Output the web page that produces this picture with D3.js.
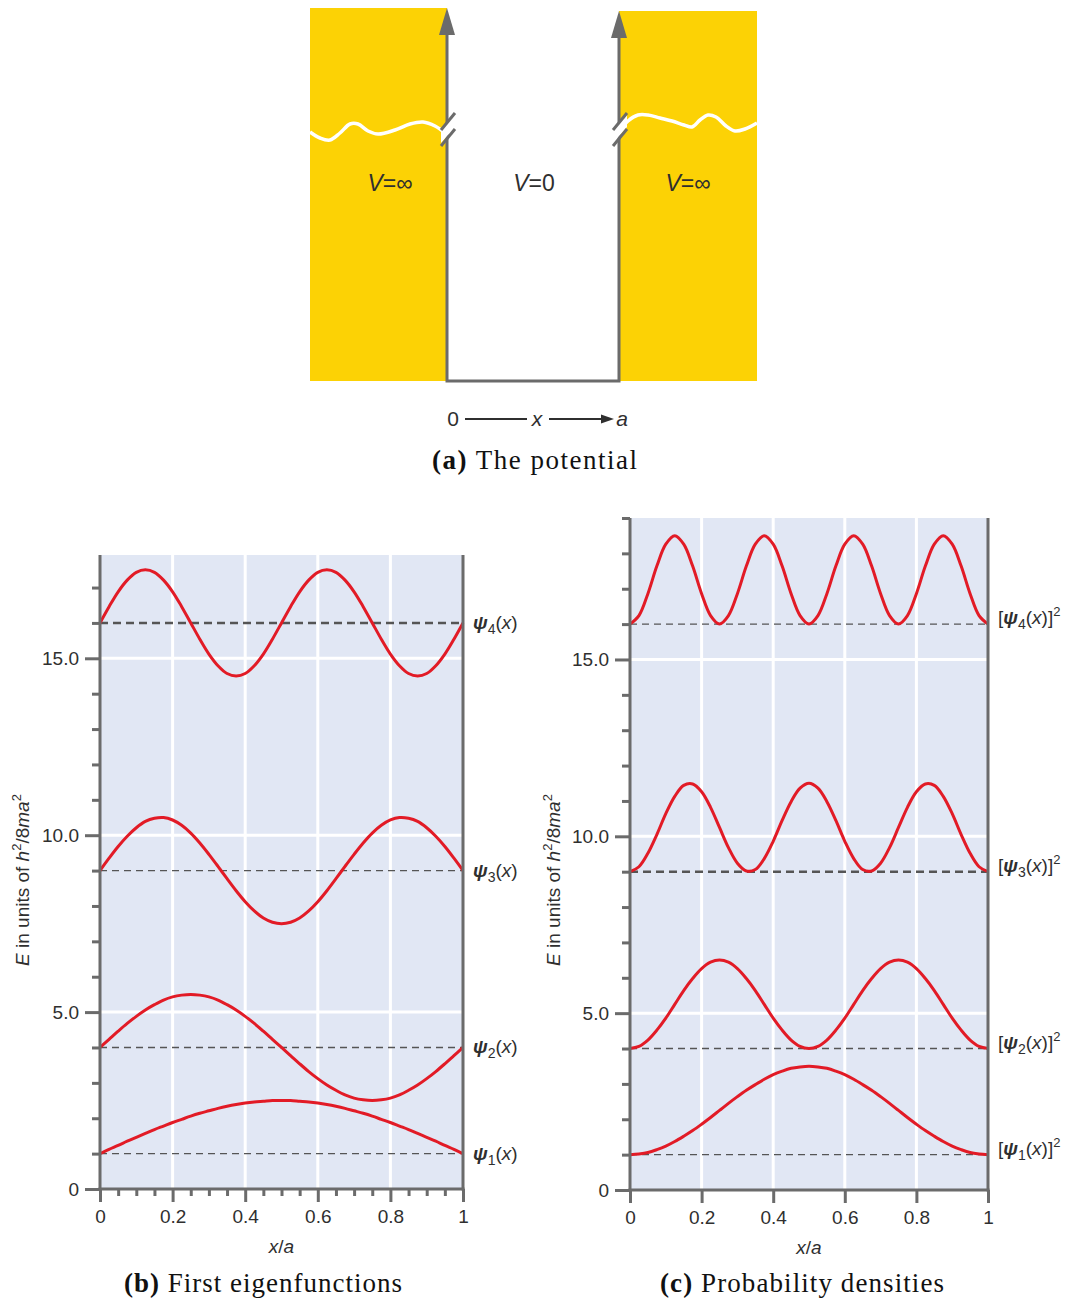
<!DOCTYPE html>
<html>
<head>
<meta charset="utf-8">
<script src="https://cdn.jsdelivr.net/npm/d3@7"></script>
<style>
  body { margin: 0; background: #fff; }
  svg { display: block; }
</style>
</head>
<body>
<svg id="fig" width="1067" height="1300"></svg>
<script>
// Sample positions along the well, x/a
const xGrid = [0, 0.025, 0.05, 0.075, 0.1, 0.125, 0.15, 0.175, 0.2, 0.225, 0.25,
  0.275, 0.3, 0.325, 0.35, 0.375, 0.4, 0.425, 0.45, 0.475, 0.5,
  0.525, 0.55, 0.575, 0.6, 0.625, 0.65, 0.675, 0.7, 0.725, 0.75,
  0.775, 0.8, 0.825, 0.85, 0.875, 0.9, 0.925, 0.95, 0.975, 1];

// Energy levels E_n (units of h^2/8ma^2)
const levels = [1, 4, 9, 16];
const stateNumbers = [1, 2, 3, 4];

// Eigenfunctions drawn on top of their energy levels
const psi1 = [1.00, 1.12, 1.23, 1.35, 1.46, 1.57, 1.68, 1.78, 1.88, 1.97, 2.06, 2.14, 2.21, 2.28, 2.34, 2.39, 2.43, 2.46, 2.48, 2.50, 2.50,
  2.50, 2.48, 2.46, 2.43, 2.39, 2.34, 2.28, 2.21, 2.14, 2.06, 1.97, 1.88, 1.78, 1.68, 1.57, 1.46, 1.35, 1.23, 1.12, 1.00];
const psi2 = [4.00, 4.23, 4.46, 4.68, 4.88, 5.06, 5.21, 5.34, 5.43, 5.48, 5.50, 5.48, 5.43, 5.34, 5.21, 5.06, 4.88, 4.68, 4.46, 4.23, 4.00,
  3.77, 3.54, 3.32, 3.12, 2.94, 2.79, 2.66, 2.57, 2.52, 2.50, 2.52, 2.57, 2.66, 2.79, 2.94, 3.12, 3.32, 3.54, 3.77, 4.00];
const psi3 = [9.00, 9.35, 9.68, 9.97, 10.21, 10.39, 10.48, 10.50, 10.43, 10.28, 10.06, 9.78, 9.46, 9.12, 8.77, 8.43, 8.12, 7.86, 7.66, 7.54, 7.50,
  7.54, 7.66, 7.86, 8.12, 8.43, 8.77, 9.12, 9.46, 9.78, 10.06, 10.28, 10.43, 10.50, 10.48, 10.39, 10.21, 9.97, 9.68, 9.35, 9.00];
const psi4 = [16.00, 16.46, 16.88, 17.21, 17.43, 17.50, 17.43, 17.21, 16.88, 16.46, 16.00, 15.54, 15.12, 14.79, 14.57, 14.50, 14.57, 14.79, 15.12, 15.54, 16.00,
  16.46, 16.88, 17.21, 17.43, 17.50, 17.43, 17.21, 16.88, 16.46, 16.00, 15.54, 15.12, 14.79, 14.57, 14.50, 14.57, 14.79, 15.12, 15.54, 16.00];

// Probability densities drawn on top of their energy levels
const dens1 = [1.00, 1.02, 1.06, 1.14, 1.24, 1.37, 1.52, 1.68, 1.86, 2.05, 2.25, 2.45, 2.64, 2.82, 2.98, 3.13, 3.26, 3.36, 3.44, 3.48, 3.50,
  3.48, 3.44, 3.36, 3.26, 3.13, 2.98, 2.82, 2.64, 2.45, 2.25, 2.05, 1.86, 1.68, 1.52, 1.37, 1.24, 1.14, 1.06, 1.02, 1.00];
const dens2 = [4.00, 4.06, 4.24, 4.52, 4.86, 5.25, 5.64, 5.98, 6.26, 6.44, 6.50, 6.44, 6.26, 5.98, 5.64, 5.25, 4.86, 4.52, 4.24, 4.06, 4.00,
  4.06, 4.24, 4.52, 4.86, 5.25, 5.64, 5.98, 6.26, 6.44, 6.50, 6.44, 6.26, 5.98, 5.64, 5.25, 4.86, 4.52, 4.24, 4.06, 4.00];
const dens3 = [9.00, 9.14, 9.52, 10.05, 10.64, 11.13, 11.44, 11.48, 11.26, 10.82, 10.25, 9.68, 9.24, 9.02, 9.06, 9.37, 9.86, 10.45, 10.98, 11.36, 11.50,
  11.36, 10.98, 10.45, 9.86, 9.37, 9.06, 9.02, 9.24, 9.68, 10.25, 10.82, 11.26, 11.48, 11.44, 11.13, 10.64, 10.05, 9.52, 9.14, 9.00];
const dens4 = [16.00, 16.24, 16.86, 17.64, 18.26, 18.50, 18.26, 17.64, 16.86, 16.24,
  16.00, 16.24, 16.86, 17.64, 18.26, 18.50, 18.26, 17.64, 16.86, 16.24,
  16.00, 16.24, 16.86, 17.64, 18.26, 18.50, 18.26, 17.64, 16.86, 16.24,
  16.00, 16.24, 16.86, 17.64, 18.26, 18.50, 18.26, 17.64, 16.86, 16.24, 16.00];

// Axis ticks
const xMajorTicks = [0, 0.2, 0.4, 0.6, 0.8, 1];
const xMinorTicks = [0.05, 0.1, 0.15, 0.25, 0.3, 0.35, 0.45, 0.5, 0.55, 0.65, 0.7, 0.75, 0.85, 0.9, 0.95];
const yMajorTicks = [0, 5, 10, 15];
const xTickLabels = ["0", "0.2", "0.4", "0.6", "0.8", "1"];
const yTickLabels = ["0", "5.0", "10.0", "15.0"];

const svg = d3.select("#fig");
const SANS = "'Liberation Sans', Arial, sans-serif";
const SERIF = "'Liberation Serif', 'Times New Roman', serif";
const AXIS_GREY = "#6b6b6b";
const TEXT = "#2f2f2f";
const RED = "#e21b26";
const PANEL_BG = "#e1e7f4";

// ---------- (a) the potential well ----------
(function drawWell() {
  const g = svg.append("g");
  const yellow = "#fcd205";
  const wallL = 447, wallR = 619, floor = 381;

  g.append("rect").attr("x", 310).attr("y", 8).attr("width", wallL - 310).attr("height", floor - 8).attr("fill", yellow);
  g.append("rect").attr("x", wallR).attr("y", 11).attr("width", 757 - wallR).attr("height", floor - 11).attr("fill", yellow);

  // white "cut" lines across the infinite walls
  const wave = d3.line().curve(d3.curveCatmullRom.alpha(0.5));
  const waveL = [[310, 132], [320, 138], [330, 140], [340, 133], [350, 124], [358, 124], [368, 131], [378, 134],
    [395, 130], [410, 124], [423, 122], [435, 126], [445, 133]];
  const waveR = [[620, 131], [628, 121], [638, 115], [648, 115], [660, 118], [672, 121], [684, 125], [692, 127],
    [700, 120], [708, 115], [716, 117], [726, 126], [735, 131], [745, 129], [757, 123]];
  g.append("path").attr("d", wave(waveL)).attr("fill", "none").attr("stroke", "#fff").attr("stroke-width", 3.5);
  g.append("path").attr("d", wave(waveR)).attr("fill", "none").attr("stroke", "#fff").attr("stroke-width", 3.5);

  // walls and floor
  g.append("path")
    .attr("d", `M${wallL},30 V${floor} H${wallR} V32`)
    .attr("fill", "none").attr("stroke", AXIS_GREY).attr("stroke-width", 3).attr("stroke-linejoin", "miter");
  g.append("path").attr("d", `M${wallL},8 L${wallL - 8},35 L${wallL + 8},35 Z`).attr("fill", AXIS_GREY);
  g.append("path").attr("d", `M${wallR},11 L${wallR - 8},38 L${wallR + 8},38 Z`).attr("fill", AXIS_GREY);

  // axis-break marks on both walls
  [wallL, wallR].forEach(cx => {
    g.append("path")
      .attr("d", `M${cx - 6},131 L${cx + 8},115 L${cx + 8},127 L${cx - 6},143 Z`)
      .attr("fill", "#fff");
    g.append("line").attr("x1", cx - 6).attr("y1", 130).attr("x2", cx + 8).attr("y2", 113)
      .attr("stroke", AXIS_GREY).attr("stroke-width", 3);
    g.append("line").attr("x1", cx - 6).attr("y1", 146).attr("x2", cx + 8).attr("y2", 129)
      .attr("stroke", AXIS_GREY).attr("stroke-width", 3);
  });

  const vText = (x, rhs) => {
    const t = g.append("text").attr("x", x).attr("y", 191).attr("text-anchor", "middle")
      .attr("font-family", SANS).attr("font-size", 23).attr("fill", TEXT);
    t.append("tspan").attr("font-style", "italic").text("V");
    t.append("tspan").text("=" + rhs);
  };
  vText(390, "∞");
  vText(534, "0");
  vText(688, "∞");

  // 0 —— x ——> a
  const by = 419;
  const bottomText = (x, s, italic) => g.append("text").attr("x", x).attr("y", by + 7).attr("text-anchor", "middle")
    .attr("font-family", SANS).attr("font-style", italic ? "italic" : "normal")
    .attr("font-size", 21).attr("fill", TEXT).text(s);
  bottomText(453, "0", false);
  bottomText(537, "x", true);
  bottomText(622, "a", true);
  g.append("line").attr("x1", 465).attr("x2", 527).attr("y1", by).attr("y2", by).attr("stroke", TEXT).attr("stroke-width", 1.8);
  g.append("line").attr("x1", 549).attr("x2", 604).attr("y1", by).attr("y2", by).attr("stroke", TEXT).attr("stroke-width", 1.8);
  g.append("path").attr("d", `M601,${by - 4.5} L614,${by} L601,${by + 4.5} Z`).attr("fill", TEXT);
})();

// ---------- captions ----------
function caption(x0, x1, y, tag, rest) {
  const t = svg.append("text").attr("x", x0).attr("y", y)
    .attr("font-family", SERIF).attr("font-size", 27).attr("fill", "#111")
    .attr("textLength", x1 - x0).attr("lengthAdjust", "spacing");
  t.append("tspan").attr("font-weight", "bold").text(tag);
  t.append("tspan").text(" " + rest);
}
caption(432, 637, 469, "(a)", "The potential");
caption(124, 402, 1292, "(b)", "First eigenfunctions");
caption(660, 944, 1292, "(c)", "Probability densities");

// ---------- (b) and (c) level diagrams ----------
function levelPanel(opts) {
  const { x0, x1, yTop, yBottom, yMax, curves, heavyLevel, squared, labelShift, minorX, titleX } = opts;
  const g = svg.append("g");
  const x = d3.scaleLinear().domain([0, 1]).range([x0, x1]);
  const y = d3.scaleLinear().domain([0, yMax]).range([yBottom, yTop]);

  // panel background
  g.append("rect").attr("x", x0).attr("y", yTop).attr("width", x1 - x0).attr("height", yBottom - yTop).attr("fill", PANEL_BG);

  // white grid
  g.selectAll(".vgrid").data(xMajorTicks.slice(1, -1)).join("line")
    .attr("x1", d => x(d)).attr("x2", d => x(d)).attr("y1", yTop).attr("y2", yBottom)
    .attr("stroke", "#fff").attr("stroke-width", 3);
  g.selectAll(".hgrid").data(yMajorTicks.slice(1)).join("line")
    .attr("x1", x0).attr("x2", x1).attr("y1", d => y(d)).attr("y2", d => y(d))
    .attr("stroke", "#fff").attr("stroke-width", 3);

  // energy levels
  g.selectAll(".level").data(levels).join("line")
    .attr("x1", x(0)).attr("x2", x(1)).attr("y1", d => y(d)).attr("y2", d => y(d))
    .attr("stroke", "#555").attr("stroke-width", d => d === heavyLevel ? 2.6 : 1.4)
    .attr("stroke-dasharray", d => d === heavyLevel ? "8,5" : "7,5");

  // curves
  const line = d3.line().x((d, i) => x(xGrid[i])).y(d => y(d)).curve(d3.curveCatmullRom.alpha(0.5));
  g.selectAll(".curve").data(curves).join("path")
    .attr("d", d => line(d)).attr("fill", "none")
    .attr("stroke", RED).attr("stroke-width", 3).attr("stroke-linejoin", "round");

  // right frame
  g.append("line").attr("x1", x1).attr("x2", x1).attr("y1", yTop).attr("y2", yBottom + 1.5)
    .attr("stroke", AXIS_GREY).attr("stroke-width", 3);

  const styleAxis = sel => {
    sel.select(".domain").remove();
    sel.selectAll(".tick line").attr("stroke", AXIS_GREY).attr("stroke-width", 3);
    sel.selectAll(".tick text").attr("font-family", SANS).attr("font-size", 19).attr("fill", TEXT);
  };

  // y axis
  g.append("g").attr("transform", `translate(${x0},0)`)
    .call(d3.axisLeft(y).tickValues(yMajorTicks).tickFormat((d, i) => yTickLabels[i]).tickSize(15).tickPadding(6))
    .call(styleAxis);
  const yMinor = d3.range(1, Math.floor(yMax) + 1).filter(v => v % 5 !== 0);
  g.append("g").attr("transform", `translate(${x0},0)`)
    .call(d3.axisLeft(y).tickValues(yMinor).tickFormat("").tickSize(8))
    .call(styleAxis);

  // x axis
  g.append("g").attr("transform", `translate(0,${yBottom})`)
    .call(d3.axisBottom(x).tickValues(xMajorTicks).tickFormat((d, i) => xTickLabels[i]).tickSize(13).tickPadding(8))
    .call(styleAxis);
  if (minorX) {
    g.append("g").attr("transform", `translate(0,${yBottom})`)
      .call(d3.axisBottom(x).tickValues(xMinorTicks).tickFormat("").tickSize(7))
      .call(styleAxis);
  }

  // axis lines
  g.append("line").attr("x1", x0).attr("x2", x0).attr("y1", yTop).attr("y2", yBottom + 1.5)
    .attr("stroke", AXIS_GREY).attr("stroke-width", 3);
  g.append("line").attr("x1", x0 - 1.5).attr("x2", x1 + 1.5).attr("y1", yBottom).attr("y2", yBottom)
    .attr("stroke", AXIS_GREY).attr("stroke-width", 3);

  // axis titles
  const xt = g.append("text").attr("x", (x0 + x1) / 2).attr("y", yBottom + 64).attr("text-anchor", "middle")
    .attr("font-family", SANS).attr("font-size", 19).attr("fill", TEXT);
  xt.append("tspan").attr("font-style", "italic").text("x");
  xt.append("tspan").text("/");
  xt.append("tspan").attr("font-style", "italic").text("a");

  const yt = g.append("text").attr("transform", `translate(${titleX},880) rotate(-90)`).attr("text-anchor", "middle")
    .attr("font-family", SANS).attr("font-size", 19).attr("fill", TEXT);
  yt.append("tspan").attr("font-style", "italic").text("E");
  yt.append("tspan").text(" in units of ");
  yt.append("tspan").attr("font-style", "italic").text("h");
  yt.append("tspan").attr("font-size", 13).attr("dy", -8).text("2");
  yt.append("tspan").attr("dy", 8).text("/8");
  yt.append("tspan").attr("font-style", "italic").text("ma");
  yt.append("tspan").attr("font-size", 13).attr("dy", -8).text("2");

  // state labels
  levels.forEach((lv, i) => {
    const t = g.append("text").attr("x", x1 + 10).attr("y", y(lv) + 6 + labelShift)
      .attr("font-family", SANS).attr("font-size", 19).attr("fill", TEXT);
    if (squared) t.append("tspan").text("[");
    t.append("tspan").attr("font-weight", "bold").attr("font-style", "italic").text("ψ");
    t.append("tspan").attr("font-size", 14).attr("dy", 5).text(stateNumbers[i]);
    t.append("tspan").attr("dy", -5).text("(");
    t.append("tspan").attr("font-style", "italic").text("x");
    t.append("tspan").text(squared ? ")]" : ")");
    if (squared) t.append("tspan").attr("font-size", 13).attr("dy", -8).text("2");
  });
}

levelPanel({
  x0: 100, x1: 463, yTop: 555, yBottom: 1189, yMax: 17.92,
  curves: [psi1, psi2, psi3, psi4], heavyLevel: 16, squared: false,
  labelShift: 0, minorX: true, titleX: 29
});
levelPanel({
  x0: 630, x1: 988, yTop: 518, yBottom: 1190, yMax: 19,
  curves: [dens1, dens2, dens3, dens4], heavyLevel: 9, squared: true,
  labelShift: -6, minorX: false, titleX: 560
});
</script>
</body>
</html>
